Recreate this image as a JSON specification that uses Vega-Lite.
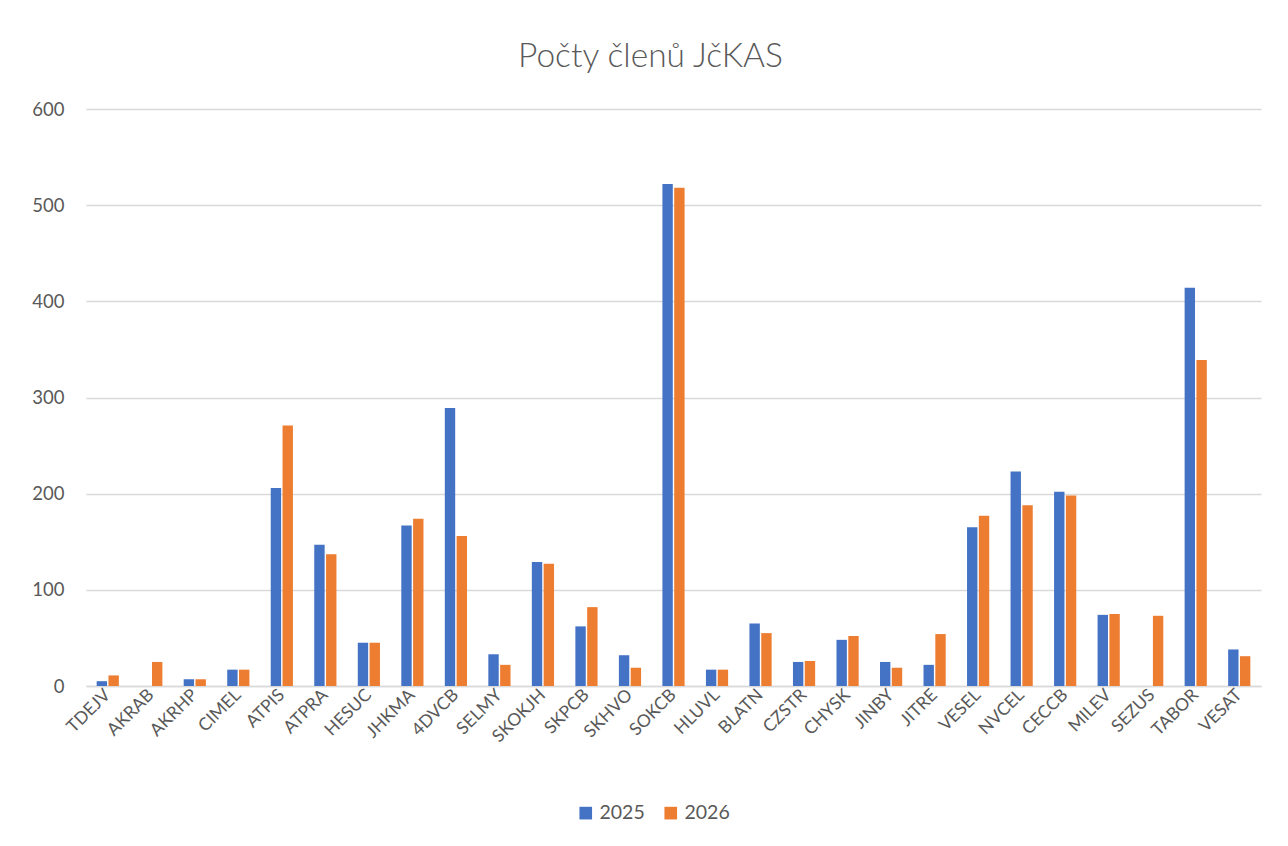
{
  "$schema": "https://vega.github.io/schema/vega-lite/v6.json",
  "width": 1175,
  "height": 577,
  "autosize": {"type": "none"},
  "padding": {"left": 86, "top": 109, "right": 27, "bottom": 160},
  "background": "white",
  "title": {
    "text": "Počty členů JčKAS",
    "fontSize": 33.5,
    "font": "Lato",
    "fontWeight": 300,
    "color": "#595959",
    "anchor": "middle",
    "dx": -23,
    "offset": 26
  },
  "data": {
    "values": [
      {"klub": "TDEJV", "rok": "2025", "pocet": 5},
      {"klub": "TDEJV", "rok": "2026", "pocet": 11},
      {"klub": "AKRAB", "rok": "2026", "pocet": 25},
      {"klub": "AKRHP", "rok": "2025", "pocet": 7},
      {"klub": "AKRHP", "rok": "2026", "pocet": 7},
      {"klub": "CIMEL", "rok": "2025", "pocet": 17},
      {"klub": "CIMEL", "rok": "2026", "pocet": 17},
      {"klub": "ATPIS", "rok": "2025", "pocet": 206},
      {"klub": "ATPIS", "rok": "2026", "pocet": 271},
      {"klub": "ATPRA", "rok": "2025", "pocet": 147},
      {"klub": "ATPRA", "rok": "2026", "pocet": 137},
      {"klub": "HESUC", "rok": "2025", "pocet": 45},
      {"klub": "HESUC", "rok": "2026", "pocet": 45},
      {"klub": "JHKMA", "rok": "2025", "pocet": 167},
      {"klub": "JHKMA", "rok": "2026", "pocet": 174},
      {"klub": "4DVCB", "rok": "2025", "pocet": 289},
      {"klub": "4DVCB", "rok": "2026", "pocet": 156},
      {"klub": "SELMY", "rok": "2025", "pocet": 33},
      {"klub": "SELMY", "rok": "2026", "pocet": 22},
      {"klub": "SKOKJH", "rok": "2025", "pocet": 129},
      {"klub": "SKOKJH", "rok": "2026", "pocet": 127},
      {"klub": "SKPCB", "rok": "2025", "pocet": 62},
      {"klub": "SKPCB", "rok": "2026", "pocet": 82},
      {"klub": "SKHVO", "rok": "2025", "pocet": 32},
      {"klub": "SKHVO", "rok": "2026", "pocet": 19},
      {"klub": "SOKCB", "rok": "2025", "pocet": 522},
      {"klub": "SOKCB", "rok": "2026", "pocet": 518},
      {"klub": "HLUVL", "rok": "2025", "pocet": 17},
      {"klub": "HLUVL", "rok": "2026", "pocet": 17},
      {"klub": "BLATN", "rok": "2025", "pocet": 65},
      {"klub": "BLATN", "rok": "2026", "pocet": 55},
      {"klub": "CZSTR", "rok": "2025", "pocet": 25},
      {"klub": "CZSTR", "rok": "2026", "pocet": 26},
      {"klub": "CHYSK", "rok": "2025", "pocet": 48},
      {"klub": "CHYSK", "rok": "2026", "pocet": 52},
      {"klub": "JINBY", "rok": "2025", "pocet": 25},
      {"klub": "JINBY", "rok": "2026", "pocet": 19},
      {"klub": "JITRE", "rok": "2025", "pocet": 22},
      {"klub": "JITRE", "rok": "2026", "pocet": 54},
      {"klub": "VESEL", "rok": "2025", "pocet": 165},
      {"klub": "VESEL", "rok": "2026", "pocet": 177},
      {"klub": "NVCEL", "rok": "2025", "pocet": 223},
      {"klub": "NVCEL", "rok": "2026", "pocet": 188},
      {"klub": "CECCB", "rok": "2025", "pocet": 202},
      {"klub": "CECCB", "rok": "2026", "pocet": 198},
      {"klub": "MILEV", "rok": "2025", "pocet": 74},
      {"klub": "MILEV", "rok": "2026", "pocet": 75},
      {"klub": "SEZUS", "rok": "2026", "pocet": 73},
      {"klub": "TABOR", "rok": "2025", "pocet": 414},
      {"klub": "TABOR", "rok": "2026", "pocet": 339},
      {"klub": "VESAT", "rok": "2025", "pocet": 38},
      {"klub": "VESAT", "rok": "2026", "pocet": 31}
    ]
  },
  "mark": {"type": "bar"},
  "encoding": {
    "x": {
      "field": "klub",
      "type": "nominal",
      "sort": null,
      "title": null,
      "scale": {"paddingInner": 0.49, "paddingOuter": 0.245},
      "axis": {
        "labelAngle": -45,
        "labelAlign": "right",
        "labelBaseline": "middle",
        "labelFontSize": 17.5,
        "labelFont": "Lato",
        "labelColor": "#595959",
        "labelPadding": 6,
        "ticks": false,
        "domainColor": "#d9d9d9",
        "domainWidth": 1.5,
        "grid": false
      }
    },
    "xOffset": {"field": "rok", "type": "nominal", "scale": {"paddingInner": 0.12}},
    "y": {
      "field": "pocet",
      "type": "quantitative",
      "title": null,
      "scale": {"domain": [0, 600], "nice": false},
      "axis": {
        "values": [0, 100, 200, 300, 400, 500, 600],
        "labelFontSize": 18.5,
        "labelFont": "Lato",
        "labelColor": "#595959",
        "labelPadding": 22,
        "ticks": false,
        "domain": false,
        "gridColor": "#d9d9d9",
        "gridWidth": 1.5
      }
    },
    "color": {
      "field": "rok",
      "type": "nominal",
      "title": null,
      "scale": {"domain": ["2025", "2026"], "range": ["#4472c4", "#ed7d31"]},
      "legend": {
        "orient": "none",
        "direction": "horizontal",
        "legendX": 490,
        "legendY": 694,
        "symbolType": "square",
        "symbolSize": 160,
        "symbolStrokeWidth": 0,
        "labelFontSize": 19.5,
        "labelFont": "Lato",
        "labelColor": "#595959",
        "columnPadding": 16
      }
    }
  },
  "config": {"view": {"stroke": null}}
}
